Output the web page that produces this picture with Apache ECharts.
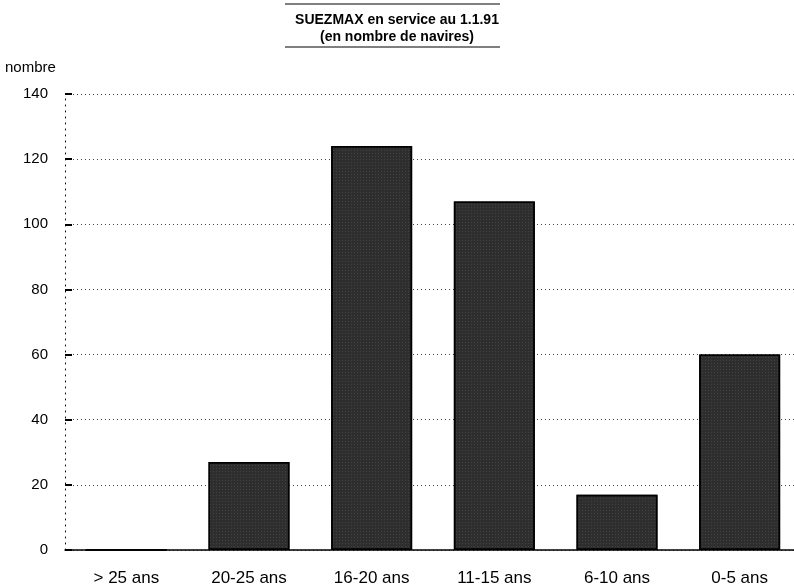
<!DOCTYPE html>
<html>
<head>
<meta charset="utf-8">
<script src="https://cdn.jsdelivr.net/npm/echarts@6/dist/echarts.min.js"></script>
<style>html,body{margin:0;padding:0;background:#fff;}#c{width:794px;height:588px;}</style>
</head>
<body>
<div id="c"></div>
<script>
const categories = ['> 25 ans', '20-25 ans', '16-20 ans', '11-15 ans', '6-10 ans', '0-5 ans'];
const values = [0, 27, 124, 107, 17, 60];
const yMin = 0, yMax = 140, yStep = 20;
const titleLine1 = 'SUEZMAX en service au 1.1.91';
const titleLine2 = '(en nombre de navires)';
const yName = 'nombre';

const chart = echarts.init(document.getElementById('c'), null, {renderer: 'canvas'});
const font = 'Liberation Sans, Arial, sans-serif';
chart.setOption({
  animation: false,
  backgroundColor: '#fff',
  grid: {left: 65, width: 736, top: 94, height: 456, containLabel: false, outerBoundsMode: 'none'},
  graphic: [
    {type: 'text', left: 'center', top: 12, style: {text: titleLine1 + '\n' + titleLine2, textAlign: 'center', font: 'bold 14px ' + font, fill: '#000', lineHeight: 17}},
    {type: 'line', shape: {x1: 285, y1: 4, x2: 500, y2: 4}, style: {stroke: '#000', lineWidth: 1}},
    {type: 'line', shape: {x1: 285, y1: 47, x2: 500, y2: 47}, style: {stroke: '#000', lineWidth: 1.2}},
    {type: 'text', left: 5, top: 60, style: {text: yName, font: '15px ' + font, fill: '#000'}}
  ],
  xAxis: {
    type: 'category',
    data: categories,
    axisLine: {show: true, lineStyle: {color: '#000', width: 1.5}},
    axisTick: {show: false},
    axisLabel: {color: '#000', fontFamily: font, fontSize: 17, margin: 20}
  },
  yAxis: {
    type: 'value',
    min: yMin, max: yMax, interval: yStep,
    axisLine: {show: true, lineStyle: {color: '#000', width: 1, type: [1, 5]}},
    axisTick: {show: true, inside: true, length: 7, lineStyle: {color: '#000', width: 2}},
    axisLabel: {color: '#000', fontFamily: font, fontSize: 15, margin: 17},
    splitLine: {show: true, lineStyle: {color: '#444', width: 1, type: [1, 3]}}
  },
  series: [{
    type: 'bar',
    data: values,
    barCategoryGap: '34%',
    itemStyle: {color: '#2e2e2e', borderColor: '#000', borderWidth: 1.5,
      decal: {symbol: 'rect', symbolSize: 0.5, color: 'rgba(255,255,255,0.4)', dashArrayX: [1, 2], dashArrayY: [1, 2], rotation: 0}}
  }]
});
</script>
</body>
</html>
